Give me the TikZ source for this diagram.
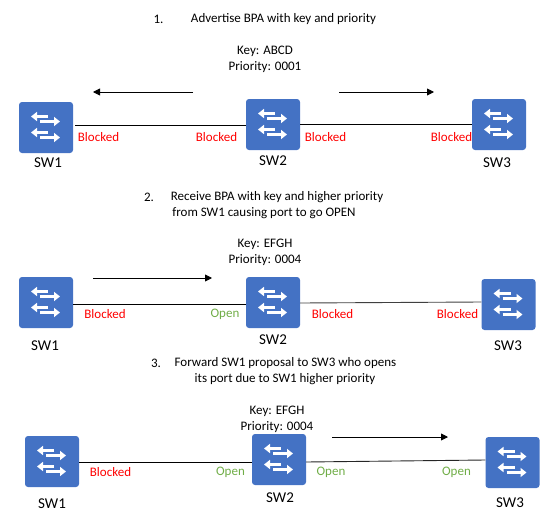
\documentclass[tikz,border=0pt]{standalone}
\usepackage{fontspec}
\setmainfont{Carlito}
\usepackage{xcolor}
\usetikzlibrary{arrows.meta, positioning}
\definecolor{swblue}{HTML}{4472C4}
\definecolor{openc}{HTML}{70AD47}
\tikzset{
    swbox/.style={fill=swblue, rounded corners=3pt, minimum width=54pt, minimum height=51pt, inner sep=0pt,
        path picture={
            \foreach \yy/\xa/\xb in {-11/2/-15, -6/-6/14, 5/2/-15, 10/-6/14}
                \draw[white, line width=2.6pt, -{Triangle[length=6pt,width=9pt]}, shift={(path picture bounding box.center)}] (\xa,\yy) -- (\xb,\yy);
        }},
    swname/.style={font=\fontsize{15}{16}\selectfont, inner sep=0pt},
    txt/.style={font=\fontsize{13}{16}\selectfont, inner sep=0pt, align=center},
    blocked/.style={txt, text=red},
    open/.style={txt, text=openc},
    link/.style={line width=0.9pt},
    flow/.style={line width=0.9pt, -{Triangle[length=7pt,width=7pt]}}
}
\begin{document}
\begin{tikzpicture}[x=1pt, y=-1pt]
    \useasboundingbox (0,0) rectangle (558,528);
    \node[txt] (numa) at (158.5,19) {1.};
    \node[txt] (heada) at (283.5,19) {Advertise BPA with key and priority};
    \node[txt] (keya) at (265,51) {Key: ABCD};
    \node[txt] (pria) at (265,67) {Priority: 0001};
    \node[swbox] (A1) at (46,127.5) {};
    \node[swbox] (A2) at (273,124.5) {};
    \node[swbox] (A3) at (499,124.5) {};
    \node[swname] (nameA1) at (48,163) {SW1};
    \node[swname] (nameA2) at (273,161) {SW2};
    \node[swname] (nameA3) at (497,163) {SW3};
    \coordinate (la) at (75,125);
    \draw[link] (la) -- (A2.west|-la);
    \draw[link] (A2.east) -- (A3.west);
    \coordinate (fa) at (193,92);
    \coordinate (ta) at (93,92);
    \coordinate (fb) at (339,92);
    \coordinate (tb) at (434,92);
    \draw[flow] (fa) -- (ta);
    \draw[flow] (fb) -- (tb);
    \node[blocked] (ba1) at (98.5,137) {Blocked};
    \node[blocked] (ba2) at (216.5,137) {Blocked};
    \node[blocked] (ba3) at (325.5,137) {Blocked};
    \node[blocked] (ba4) at (451.5,137) {Blocked};

    \node[txt] (numb) at (149,197) {2.};
    \node[txt] (headb) at (277,197) {Receive BPA with key and higher priority};
    \node[txt] (headc) at (264,213) {from SW1 causing port to go OPEN};
    \node[txt] (keyb) at (265,244) {Key: EFGH};
    \node[txt] (prib) at (265,260) {Priority: 0004};
    \node[swbox] (B1) at (46,302.5) {};
    \node[swbox] (B2) at (273,302.5) {};
    \node[swbox] (B3) at (508.5,304.5) {};
    \node[swname] (nameB1) at (45,346) {SW1};
    \node[swname] (nameB2) at (273,340) {SW2};
    \node[swname] (nameB3) at (508,346) {SW3};
    \draw[link] (B1.east|-0,304) -- (B2.west|-0,304);
    \draw[link, black!75] (B2.east|-0,303) -- (B3.west|-0,302);
    \coordinate (fc) at (93,278);
    \coordinate (tc) at (212,278);
    \draw[flow] (fc) -- (tc);
    \node[blocked] (bb1) at (105,314) {Blocked};
    \node[open] (bb2) at (225,314) {Open};
    \node[blocked] (bb3) at (332.5,314) {Blocked};
    \node[blocked] (bb4) at (457.5,314) {Blocked};

    \node[txt] (numc) at (156,363) {3.};
    \node[txt] (headd) at (285.5,363) {Forward SW1 proposal to SW3 who opens};
    \node[txt] (heade) at (285,379) {its port due to SW1 higher priority};
    \node[txt] (keyc) at (277,411) {Key: EFGH};
    \node[txt] (pric) at (277,427) {Priority: 0004};
    \node[swbox] (C1) at (52,461.5) {};
    \node[swbox] (C2) at (279,459.5) {};
    \node[swbox] (C3) at (512.5,462.5) {};
    \node[swname] (nameC1) at (52,504) {SW1};
    \node[swname] (nameC2) at (280,498) {SW2};
    \node[swname] (nameC3) at (510,503) {SW3};
    \draw[link] (C1.east|-0,462) -- (C2.west|-0,462);
    \draw[link, black!85] (C2.east|-0,462) -- (C3.west|-0,460);
    \coordinate (fd) at (332,437);
    \coordinate (td) at (448,437);
    \draw[flow] (fd) -- (td);
    \node[blocked] (bc1) at (110.5,472) {Blocked};
    \node[open] (bc2) at (230.5,472) {Open};
    \node[open] (bc3) at (331,472) {Open};
    \node[open] (bc4) at (456.5,472) {Open};
\end{tikzpicture}
\end{document}
